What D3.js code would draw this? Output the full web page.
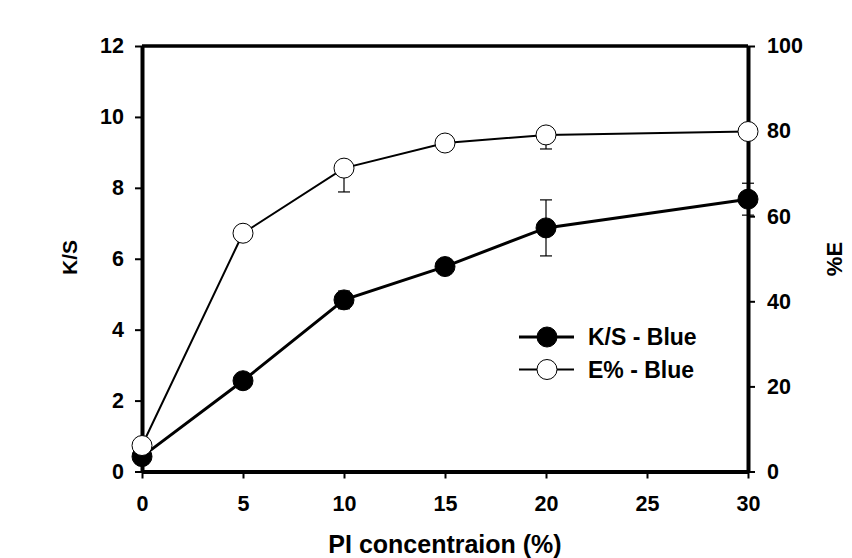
<!DOCTYPE html>
<html><head><meta charset="utf-8">
<script src="https://cdn.jsdelivr.net/npm/d3@7"></script>
<style>body{margin:0;background:#fff}svg{display:block}text{font-family:"Liberation Sans",Arial,sans-serif;font-weight:bold}</style>
</head><body><svg id="c" width="852" height="558"></svg>
<script>
const concentrations = [0, 5, 10, 15, 20, 30];
const ksValues = [0.42, 2.56, 4.84, 5.78, 6.87, 7.68];
const ksErrLow = [0.05, 0.05, 0.25, 0.05, 0.79, 0.45];
const ksErrHigh = [0.05, 0.05, 0.25, 0.05, 0.79, 0.45];
const eValues = [6.1, 56, 71.3, 77.2, 79.1, 79.9];
const eErrLow = [0.5, 1.0, 5.6, 0.5, 3.3, 0.5];
const eErrHigh = [0, 0, 0, 0, 0, 0];
const xTicks = [0, 5, 10, 15, 20, 25, 30];
const yLeftTicks = [0, 2, 4, 6, 8, 10, 12];
const yRightTicks = [0, 20, 40, 60, 80, 100];
const seriesNames = ["K/S - Blue", "E% - Blue"];

const svg = d3.select("#c");
const L = 142, R = 748, T = 46, B = 471.5;
const x = d3.scaleLinear().domain([0, 30]).range([L, R]);
const yL = d3.scaleLinear().domain([0, 12]).range([B, T]);
const yR = d3.scaleLinear().domain([0, 100]).range([B, T]);

svg.append("line").attr("x1", L).attr("x2", R).attr("y1", T).attr("y2", T).attr("stroke", "#000").attr("stroke-width", 3.5);

function styleAxis(g, w) {
  g.select(".domain").attr("stroke-width", w);
  g.selectAll(".tick line").attr("stroke-width", 2);
  g.selectAll(".tick text").style("font-size", "21.5px").style("font-family", "Liberation Sans, Arial, sans-serif").style("font-weight", "bold");
}
const gx = svg.append("g").attr("transform", `translate(0,${B})`)
  .call(d3.axisBottom(x).tickValues(xTicks).tickSize(7).tickSizeOuter(0).tickPadding(17));
styleAxis(gx, 4);
const gl = svg.append("g").attr("transform", `translate(${L},0)`)
  .call(d3.axisLeft(yL).tickValues(yLeftTicks).tickSize(7).tickSizeOuter(0).tickPadding(11));
styleAxis(gl, 4);
const gr = svg.append("g").attr("transform", `translate(${R},0)`)
  .call(d3.axisRight(yR).tickValues(yRightTicks).tickSize(7).tickSizeOuter(0).tickPadding(12));
styleAxis(gr, 4);

const ks = concentrations.map((c, i) => ({c, v: ksValues[i], lo: ksErrLow[i], hi: ksErrHigh[i]}));
const ep = concentrations.map((c, i) => ({c, v: eValues[i], lo: eErrLow[i], hi: eErrHigh[i]}));

function drawSeries(data, y, fill, lw) {
  const g = svg.append("g");
  data.forEach(d => {
    const y1 = y(d.v + d.hi), y2 = y(d.v - d.lo), cx = x(d.c);
    g.append("line").attr("x1", cx).attr("x2", cx).attr("y1", y1).attr("y2", y2).attr("stroke", "#000").attr("stroke-width", 1.2);
    if (d.hi > 0) g.append("line").attr("x1", cx - 6).attr("x2", cx + 6).attr("y1", y1).attr("y2", y1).attr("stroke", "#000").attr("stroke-width", 1.2);
    if (d.lo > 0) g.append("line").attr("x1", cx - 6).attr("x2", cx + 6).attr("y1", y2).attr("y2", y2).attr("stroke", "#000").attr("stroke-width", 1.2);
  });
  g.append("path").datum(data).attr("fill", "none").attr("stroke", "#000").attr("stroke-width", lw)
    .attr("d", d3.line().x(d => x(d.c)).y(d => y(d.v)));
  g.selectAll("circle").data(data).join("circle").attr("cx", d => x(d.c)).attr("cy", d => y(d.v)).attr("r", 10)
    .attr("fill", fill).attr("stroke", "#000").attr("stroke-width", 1);
}
drawSeries(ks, yL, "#000", 3);
drawSeries(ep, yR, "#fff", 2);

const leg = svg.append("g");
seriesNames.forEach((n, i) => {
  const yy = 337 + i * 32.5;
  leg.append("line").attr("x1", 519).attr("x2", 574).attr("y1", yy).attr("y2", yy).attr("stroke", "#000").attr("stroke-width", i === 0 ? 3 : 2);
  leg.append("circle").attr("cx", 547).attr("cy", yy).attr("r", 10).attr("fill", i === 0 ? "#000" : "#fff").attr("stroke", "#000").attr("stroke-width", 1);
  leg.append("text").attr("x", 588).attr("y", yy + 8).style("font-size", "23px").text(n);
});

svg.append("text").attr("x", 445).attr("y", 553).attr("text-anchor", "middle").style("font-size", "25px").text("PI concentraion (%)");
svg.append("text").attr("transform", "translate(77,257.5) rotate(-90)").attr("text-anchor", "middle").style("font-size", "21px").text("K/S");
svg.append("text").attr("transform", "translate(842,259) rotate(-90)").attr("text-anchor", "middle").style("font-size", "22px").text("%E");
</script></body></html>
